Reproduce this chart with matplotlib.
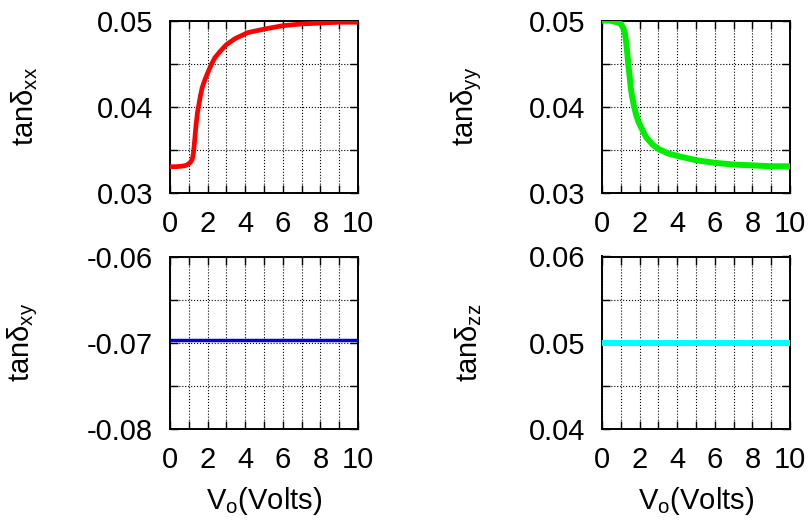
import numpy as np
import matplotlib.pyplot as plt
from matplotlib.ticker import MultipleLocator

plt.rcParams['font.family'] = ['Liberation Sans', 'DejaVu Sans']
plt.rcParams['mathtext.fontset'] = 'custom'
plt.rcParams['mathtext.rm'] = 'Liberation Sans'
plt.rcParams['mathtext.it'] = 'Liberation Sans'
plt.rcParams['mathtext.default'] = 'regular'

# tan delta xx (red)
vx = [0, 0.3, 0.61, 0.85, 1.0, 1.1, 1.18, 1.24, 1.29, 1.34, 1.39, 1.46, 1.54, 1.62, 1.71,
      1.85, 2.0, 2.2, 2.39, 2.7, 3.0, 3.46, 4.14, 5.0, 6.0, 7.0, 8.0, 9.0, 10.0]
txx = [0.03305, 0.03305, 0.0331, 0.0332, 0.0334, 0.0336, 0.0339, 0.0345, 0.0356, 0.0368,
       0.0380, 0.0393, 0.0403, 0.0413, 0.0422, 0.0431, 0.0439, 0.0449, 0.0457, 0.0465,
       0.0472, 0.0479, 0.0486, 0.0490, 0.0494, 0.0496, 0.0497, 0.0498, 0.0498]

# tan delta yy (green)
vy = [0, 0.4, 0.8, 1.0, 1.14, 1.22, 1.28, 1.34, 1.4, 1.47, 1.53, 1.6, 1.7, 1.8, 1.93, 2.15,
      2.37, 2.7, 3.0, 3.5, 4.0, 5.0, 6.0, 7.0, 8.0, 9.0, 10.0]
tyy = [0.0500, 0.0500, 0.0498, 0.0496, 0.0491, 0.0485, 0.0476, 0.0463, 0.0449, 0.0435,
       0.0422, 0.0412, 0.0401, 0.0392, 0.0383, 0.0373, 0.0364, 0.0356, 0.0351, 0.0346,
       0.0343, 0.0338, 0.0335, 0.0333, 0.0332, 0.0331, 0.0331]

# tan delta xy (blue), tan delta zz (cyan)
vc = [0, 10]
txy = [-0.0697, -0.0697]
tzz = [0.05, 0.05]

fig = plt.figure(figsize=(8.08, 5.21), dpi=100)

W, H = 188/808, 172.5/521
pos = [(170/808, 1-193/521), (602/808, 1-193/521),
       (170/808, 1-429/521), (602/808, 1-429/521)]
labx = [-0.69, -0.63, -0.69, -0.63]

panels = [
    (vx, txx, 'red', 3.4, (0.03, 0.05), 'tanδ$_{xx}$', False),
    (vy, tyy, '#00ee00', 4.3, (0.03, 0.05), 'tanδ$_{yy}$', False),
    (vc, txy, '#0000dd', 2.5, (-0.08, -0.06), 'tanδ$_{xy}$', True),
    (vc, tzz, 'cyan', 4.3, (0.04, 0.06), 'tanδ$_{zz}$', True),
]

for p, lx, (x, y, c, lw, yl, lab, bottom) in zip(pos, labx, panels):
    ax = fig.add_axes([p[0], p[1], W, H])
    ax.plot(x, y, color=c, lw=lw, solid_capstyle='butt', solid_joinstyle='round', zorder=3)
    ax.set_xlim(0, 10)
    ax.set_ylim(*yl)
    ax.xaxis.set_major_locator(MultipleLocator(2))
    ax.xaxis.set_minor_locator(MultipleLocator(1))
    ax.yaxis.set_minor_locator(MultipleLocator(0.005))
    ticks = [yl[0], (yl[0]+yl[1])/2, yl[1]]
    ax.set_yticks(ticks)
    ax.set_yticklabels(['%.2f' % v for v in ticks])
    ax.grid(True, which='both', color='black', linestyle=':', linewidth=0.8)
    ax.tick_params(which='both', direction='in', top=True, right=True,
                   length=5.5, width=1, labelsize=21, color='black')
    ax.tick_params(axis='x', pad=12)
    ax.tick_params(axis='y', pad=12)
    for s in ax.spines.values():
        s.set_linewidth(1.4)
    ax.set_ylabel(lab, fontsize=21)
    ax.yaxis.set_label_coords(lx, 0.5)
    if bottom:
        ax.set_xlabel('V$_{o}$(Volts)', fontsize=21, labelpad=8)

fig.savefig('out.png', dpi=100)
